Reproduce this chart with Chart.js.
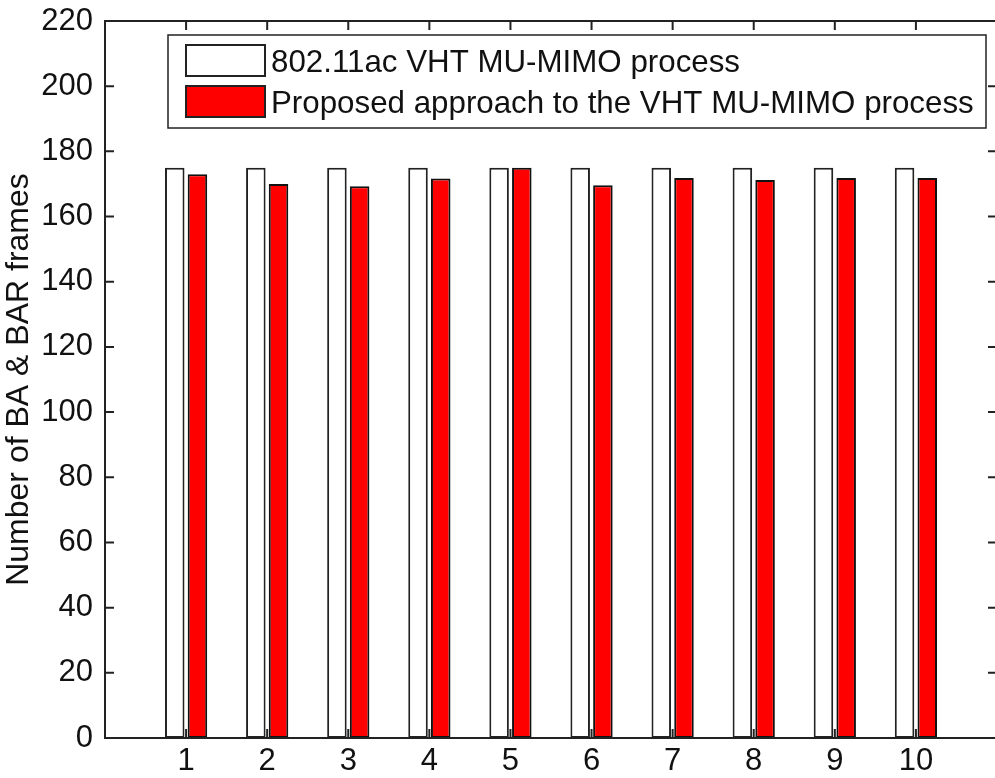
<!DOCTYPE html>
<html>
<head>
<meta charset="utf-8">
<script src="https://cdn.jsdelivr.net/npm/chart.js@4.4.1/dist/chart.umd.min.js"></script>
<style>
  html, body { margin: 0; padding: 0; background: #fff; overflow: hidden; }
  #wrap { width: 1000px; height: 778px; position: relative; }
</style>
</head>
<body>
<div id="wrap"><canvas id="myChart"></canvas></div>
<script>
// values
var categories = [1, 2, 3, 4, 5, 6, 7, 8, 9, 10];
var baseline = [175, 175, 175, 175, 175, 175, 175, 175, 175, 175];
var proposed = [173, 170, 169.3, 171.7, 175, 169.6, 171.8, 171.2, 171.8, 171.8];
var yTicks = [0, 20, 40, 60, 80, 100, 120, 140, 160, 180, 200, 220];
var seriesNames = ['802.11ac VHT MU-MIMO process', 'Proposed approach to the VHT MU-MIMO process'];

var FONT = '"Liberation Sans", Arial, sans-serif';
var INK = '#111';

function toPoints(vals) {
  return categories.map(function (c, i) { return { x: c, y: vals[i] }; });
}

// box frame + inward ticks on all four sides, matlab style
var frame = {
  id: 'frame',
  afterDraw: function (chart) {
    var c = chart.ctx, a = chart.chartArea;
    var xs = chart.scales.x, ys = chart.scales.y;
    var len = 9;
    c.save();
    c.strokeStyle = '#222';
    c.lineWidth = 2;
    c.strokeRect(a.left, a.top, a.right - a.left, a.bottom - a.top);
    c.beginPath();
    yTicks.forEach(function (v) {
      var py = ys.getPixelForValue(v);
      c.moveTo(a.left, py); c.lineTo(a.left + len, py);
      c.moveTo(a.right, py); c.lineTo(a.right - len, py);
    });
    categories.forEach(function (v) {
      var px = xs.getPixelForValue(v);
      c.moveTo(px, a.bottom); c.lineTo(px, a.bottom - len);
      c.moveTo(px, a.top); c.lineTo(px, a.top + len);
    });
    c.stroke();

    // legend box
    var bx = 168, by = 35, bw = 818, bh = 93;
    c.fillStyle = '#fff';
    c.fillRect(bx, by, bw, bh);
    c.lineWidth = 1.5;
    c.strokeRect(bx, by, bw, bh);
    var ds = chart.data.datasets;
    c.font = '31.3px ' + FONT;
    c.textBaseline = 'middle';
    c.textAlign = 'left';
    ds.forEach(function (d, i) {
      var sy = 45 + i * 41;
      c.fillStyle = d.backgroundColor;
      c.fillRect(186, sy, 79, 31);
      c.strokeStyle = '#222';
      c.lineWidth = 2;
      c.strokeRect(186, sy, 79, 31);
      c.fillStyle = INK;
      c.fillText(d.label, 271, sy + 18);
    });
    c.restore();
  }
};

var ctx = document.getElementById('myChart').getContext('2d');
var myChart = new Chart(ctx, {
  type: 'bar',
  data: {
    datasets: [{
      label: seriesNames[0],
      data: toPoints(baseline),
      backgroundColor: '#ffffff',
      borderColor: '#222',
      borderWidth: 2,
      borderSkipped: false
    }, {
      label: seriesNames[1],
      data: toPoints(proposed),
      backgroundColor: '#ff0000',
      borderColor: '#111',
      borderWidth: 2,
      borderSkipped: false
    }]
  },
  options: {
    responsive: true,
    maintainAspectRatio: false,
    animation: false,
    categoryPercentage: 0.56,
    barPercentage: 0.86,
    layout: { padding: { top: 21, right: 3, left: 0, bottom: 0 } },
    plugins: {
      legend: { display: false },
      tooltip: { enabled: false }
    },
    scales: {
      x: {
        type: 'linear',
        min: 0,
        max: 11,
        offset: false,
        grid: { display: false, drawTicks: false },
        border: { display: false },
        ticks: {
          stepSize: 1,
          autoSkip: false,
          maxRotation: 0,
          padding: 5,
          color: INK,
          font: { family: FONT, size: 31 },
          callback: function (v) { return (v >= 1 && v <= 10) ? v : ''; }
        },
        afterFit: function (s) { s.height = 40; s.paddingLeft = 0; s.paddingRight = 0; }
      },
      y: {
        min: 0,
        max: 220,
        grid: { display: false, drawTicks: false },
        border: { display: false },
        ticks: {
          stepSize: 20,
          padding: 12,
          color: INK,
          font: { family: FONT, size: 31 }
        },
        title: {
          display: true,
          text: 'Number of BA & BAR frames',
          color: INK,
          font: { family: FONT, size: 32 },
          padding: { top: 0, bottom: 0 }
        },
        afterFit: function (s) { s.width = 105; s.paddingTop = 0; s.paddingBottom = 0; }
      }
    }
  },
  plugins: [frame]
});
</script>
</body>
</html>
